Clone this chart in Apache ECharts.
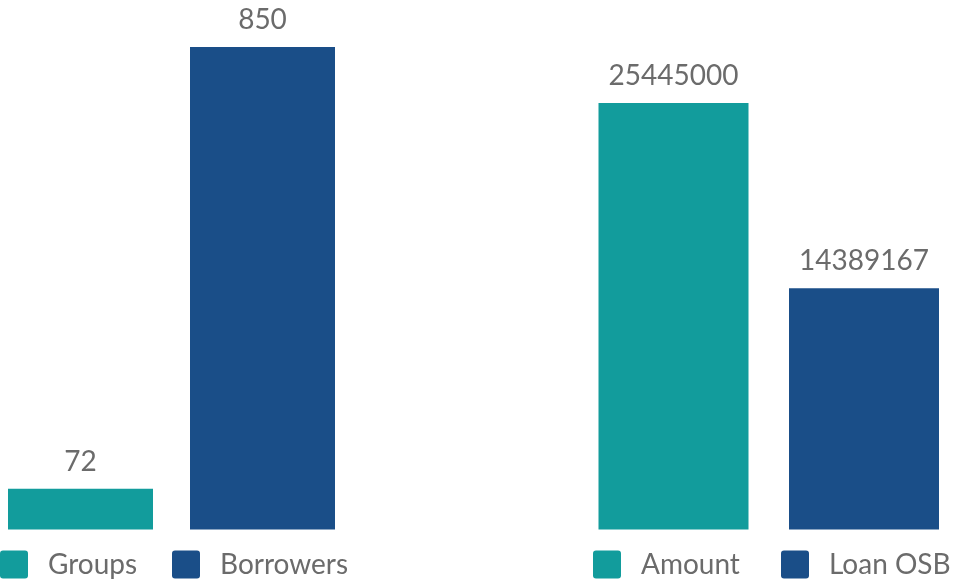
<!DOCTYPE html>
<html>
<head>
<meta charset="utf-8">
<script src="https://cdn.jsdelivr.net/npm/echarts@6/dist/echarts.min.js"></script>
<style>
  html, body { margin: 0; padding: 0; background: #ffffff; }
  #chart { width: 953px; height: 584px; }
</style>
</head>
<body>
<div id="chart"></div>
<script>
// Left panel: outreach counts
const countNames = ['Groups', 'Borrowers'];
const countValues = [72, 850];

// Right panel: loan amounts
const amountNames = ['Amount', 'Loan OSB'];
const amountValues = [25445000, 14389167];

const TEAL = '#129c9c';
const NAVY = '#1a4e88';
const colors = [TEAL, NAVY];
const FONT = 'Lato';
const TEXT = '#6b6b6b';

// square legend marker with slightly rounded corners
const ICON = 'path://M3,0 H25 Q28,0 28,3 V25 Q28,28 25,28 H3 Q0,28 0,25 V3 Q0,0 3,0 Z';

function makeSeries(names, values, axisIdx, width) {
  return names.map((name, i) => ({
    name: name,
    type: 'bar',
    xAxisIndex: axisIdx,
    yAxisIndex: axisIdx,
    barGap: '-100%',
    barWidth: width,
    clip: false,
    itemStyle: { color: colors[i] },
    label: {
      show: true,
      position: 'top',
      distance: 13,
      color: TEXT,
      fontFamily: FONT,
      fontSize: 28
    },
    data: names.map((_, j) => (j === i ? values[i] : null))
  }));
}

function legendItem(name, left) {
  return {
    data: [name],
    left: left,
    top: 550.5,
    padding: 0,
    icon: ICON,
    itemWidth: 28,
    itemHeight: 28,
    textStyle: {
      color: TEXT,
      fontFamily: FONT,
      fontSize: 28,
      padding: [0, 0, 0, 15]
    }
  };
}

const chart = echarts.init(document.getElementById('chart'), null, { renderer: 'canvas' });

chart.setOption({
  animation: false,
  backgroundColor: '#ffffff',
  grid: [
    { left: 80.5, width: 182, top: 47, bottom: 54.5 },
    { left: 673.5, width: 190.5, top: 103, bottom: 54.5 }
  ],
  xAxis: [
    { type: 'category', gridIndex: 0, data: countNames, boundaryGap: false, show: false },
    { type: 'category', gridIndex: 1, data: amountNames, boundaryGap: false, show: false }
  ],
  yAxis: [
    { type: 'value', gridIndex: 0, min: 0, max: countValues[1], show: false, splitLine: { show: false } },
    { type: 'value', gridIndex: 1, min: 0, max: amountValues[0], show: false, splitLine: { show: false } }
  ],
  legend: [
    legendItem(countNames[0], 0),
    legendItem(countNames[1], 172),
    legendItem(amountNames[0], 593),
    legendItem(amountNames[1], 781)
  ],
  series: makeSeries(countNames, countValues, 0, 145)
    .concat(makeSeries(amountNames, amountValues, 1, 150))
});
</script>
</body>
</html>
